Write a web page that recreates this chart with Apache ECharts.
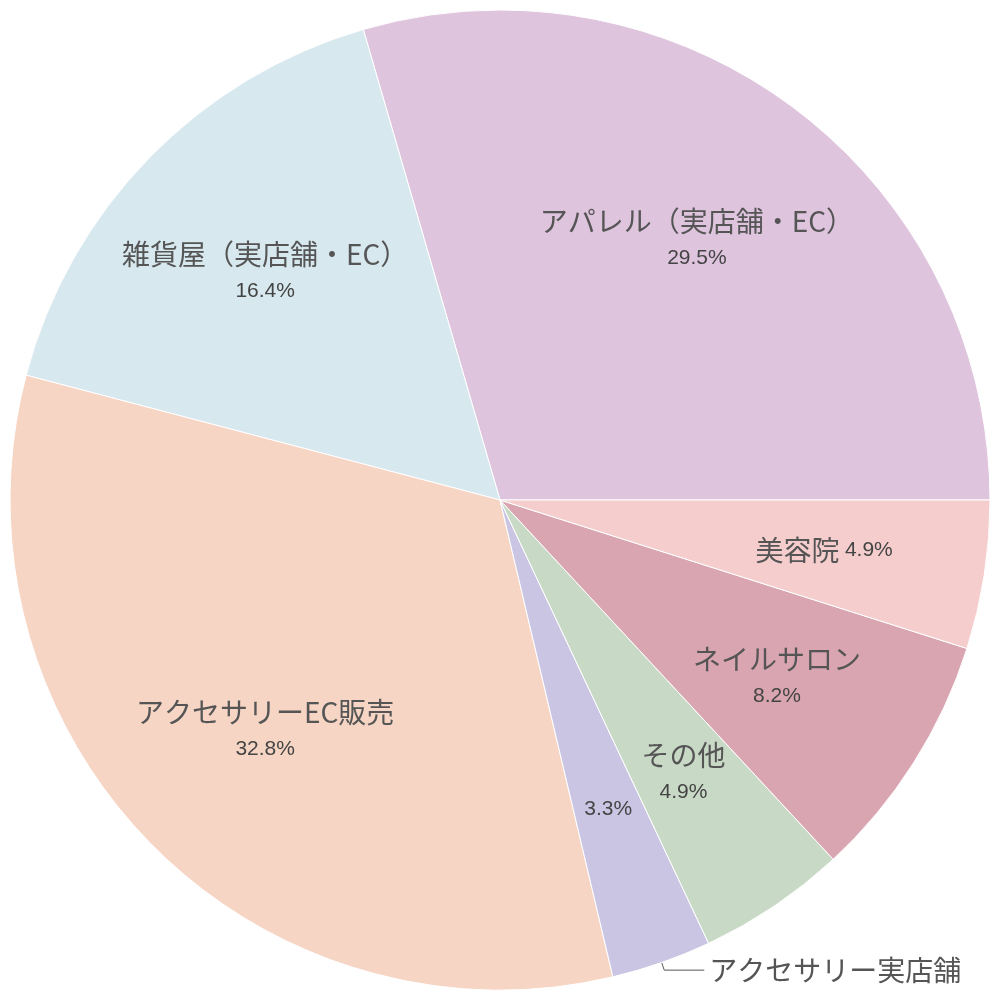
<!DOCTYPE html>
<html lang="ja">
<head>
<meta charset="UTF-8">
<script src="https://cdn.jsdelivr.net/npm/echarts@6/dist/echarts.min.js"></script>
<style>html,body{margin:0;background:#fff}</style>
</head>
<body>
<div id="main" style="width:1000px;height:1000px;"></div>
<script>
var names = ['アパレル（実店舗・EC）', '雑貨屋（実店舗・EC）', 'アクセサリーEC販売', 'アクセサリー実店舗', 'その他', 'ネイルサロン', '美容院'];
var values = [29.5, 16.4, 32.8, 3.3, 4.9, 8.2, 4.9];
var colors = ['#dfc4de', '#d7e8ef', '#f6d5c4', '#cbc5e4', '#c8d9c6', '#d9a5b1', '#f5cdcd'];

// visible slices, no labels
var slices = names.map(function (n, i) {
    return {name: n, value: values[i], itemStyle: {color: colors[i]}};
});
// transparent ring carrying the inside labels further out
var inner = names.map(function (n, i) {
    return {
        name: n, value: values[i],
        label: {formatter: i === 3 ? '{p|{c}%}' : (i === 6 ? '{n|{b}}  {p|{c}%}' : '{n|{b}}\n\n{p|{c}%}')}
    };
});
var outer = names.map(function (n, i) {
    return {name: n, value: values[i], label: {show: i === 3}, labelLine: {show: i === 3}};
});

var chart = echarts.init(document.getElementById('main'));
chart.setOption({
    animation: false,
    series: [{
        type: 'pie', radius: 490, center: [500, 500],
        startAngle: 0, clockwise: false, silent: true,
        data: slices, label: {show: false},
        itemStyle: {borderColor: '#fff', borderWidth: 1}
    }, {
        type: 'pie', radius: [160, 490], center: [500, 500],
        startAngle: 0, clockwise: false, silent: true,
        itemStyle: {color: 'transparent'},
        data: inner,
        labelLayout: {hideOverlap: false},
        label: {
            position: 'inside', fontFamily: 'Noto Sans CJK JP',
            rich: {
                n: {fontSize: 28, color: '#555', fontFamily: 'Noto Sans CJK JP'},
                p: {fontSize: 21, color: '#444', fontFamily: 'Liberation Sans'}
            }
        }
    }, {
        type: 'pie', radius: 490, center: [500, 500],
        startAngle: 0, clockwise: false, silent: true,
        itemStyle: {color: 'transparent'},
        data: outer,
        label: {position: 'outside', color: '#555', fontSize: 28, fontFamily: 'Noto Sans CJK JP', formatter: '{b}'},
        labelLine: {length: 8, length2: 40, lineStyle: {color: '#555'}}
    }]
});
</script>
</body>
</html>
